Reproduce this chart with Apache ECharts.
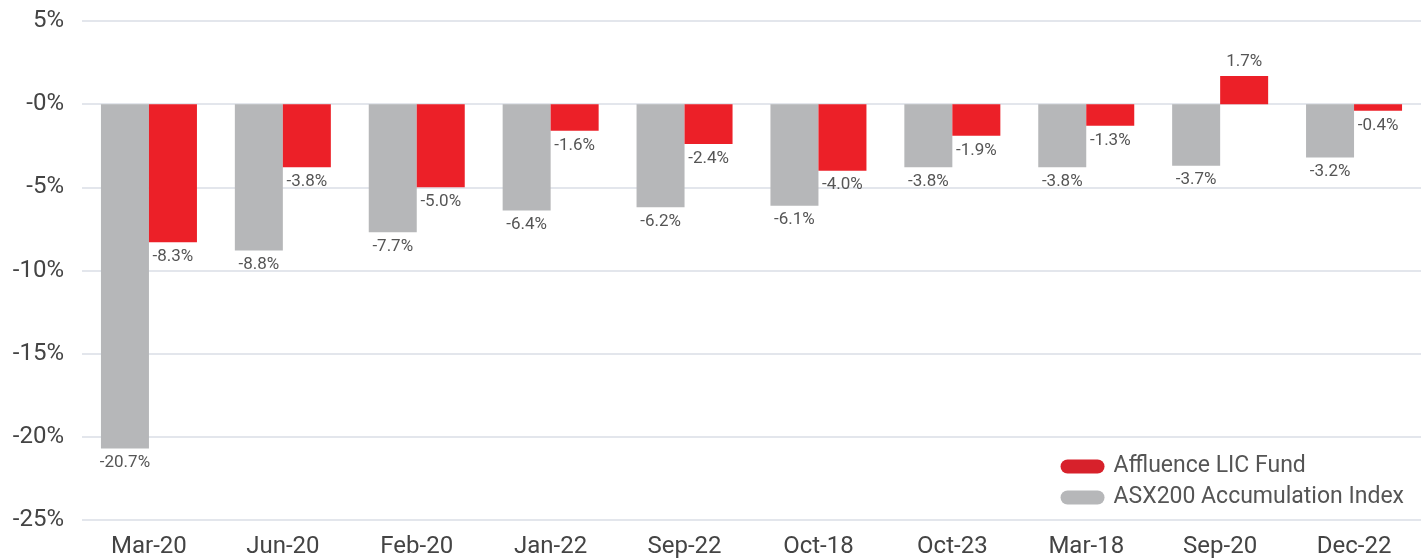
<!DOCTYPE html>
<html>
<head>
<meta charset="utf-8">
<script src="https://cdn.jsdelivr.net/npm/echarts@6/dist/echarts.min.js"></script>
<style>
  html, body { margin: 0; padding: 0; background: #fff; }
  #chart { width: 1427px; height: 560px; }
</style>
</head>
<body>
<div id="chart"></div>
<script>
const categories = ['Mar-20', 'Jun-20', 'Feb-20', 'Jan-22', 'Sep-22', 'Oct-18', 'Oct-23', 'Mar-18', 'Sep-20', 'Dec-22']
const fundValues = [-8.3, -3.8, -5.0, -1.6, -2.4, -4.0, -1.9, -1.3, 1.7, -0.4]
const indexValues = [-20.7, -8.8, -7.7, -6.4, -6.2, -6.1, -3.8, -3.8, -3.7, -3.2]

const RED = '#ec2028'
const GREY = '#b6b7b9'
const FONT = 'Roboto'
// capsule shaped legend swatch
const PILL = 'path://M7,0 H37 A7,7 0 0 1 37,14 H7 A7,7 0 0 1 7,0 Z'

const chart = echarts.init(document.getElementById('chart'))

// negative bars get their label underneath, positive ones on top
const withLabels = values => values.map(v => ({
  value: v,
  label: { position: v < 0 ? 'bottom' : 'top' }
}))

const labelStyle = {
  show: true,
  distance: 6,
  color: '#555',
  fontFamily: FONT,
  fontSize: 17,
  formatter: p => p.value.toFixed(1) + '%'
}

chart.setOption({
  animation: false,
  grid: { left: 82, right: 6, top: 21, bottom: 40, containLabel: false },
  legend: {
    orient: 'vertical',
    right: 18,
    top: 450,
    itemWidth: 44,
    itemHeight: 14,
    itemGap: 8,
    data: [
      { name: 'Affluence LIC Fund', icon: PILL, itemStyle: { color: '#d7212b' } },
      { name: 'ASX200 Accumulation Index', icon: PILL, itemStyle: { color: GREY } }
    ],
    textStyle: { color: '#555', fontFamily: FONT, fontSize: 23, lineHeight: 23, padding: [0, 0, 0, 4] }
  },
  xAxis: {
    type: 'category',
    data: categories,
    axisLine: { show: false },
    axisTick: { show: false },
    axisLabel: { color: '#444', fontFamily: FONT, fontSize: 24, margin: 15 }
  },
  yAxis: {
    type: 'value',
    min: -25,
    max: 5,
    interval: 5,
    axisLine: { show: false },
    axisTick: { show: false },
    axisLabel: {
      color: '#444',
      fontFamily: FONT,
      fontSize: 24,
      margin: 18,
      formatter: v => (v <= 0 ? '-' + Math.abs(v) : v) + '%'
    },
    splitLine: { lineStyle: { color: '#e3e6ec', width: 2 } }
  },
  series: [
    {
      name: 'ASX200 Accumulation Index',
      type: 'bar',
      barWidth: 48,
      barGap: '0%',
      itemStyle: { color: GREY },
      label: labelStyle,
      data: withLabels(indexValues)
    },
    {
      name: 'Affluence LIC Fund',
      type: 'bar',
      barWidth: 48,
      barGap: '0%',
      itemStyle: { color: RED },
      label: labelStyle,
      data: withLabels(fundValues)
    }
  ]
})

window.addEventListener('resize', () => chart.resize())
</script>
</body>
</html>
